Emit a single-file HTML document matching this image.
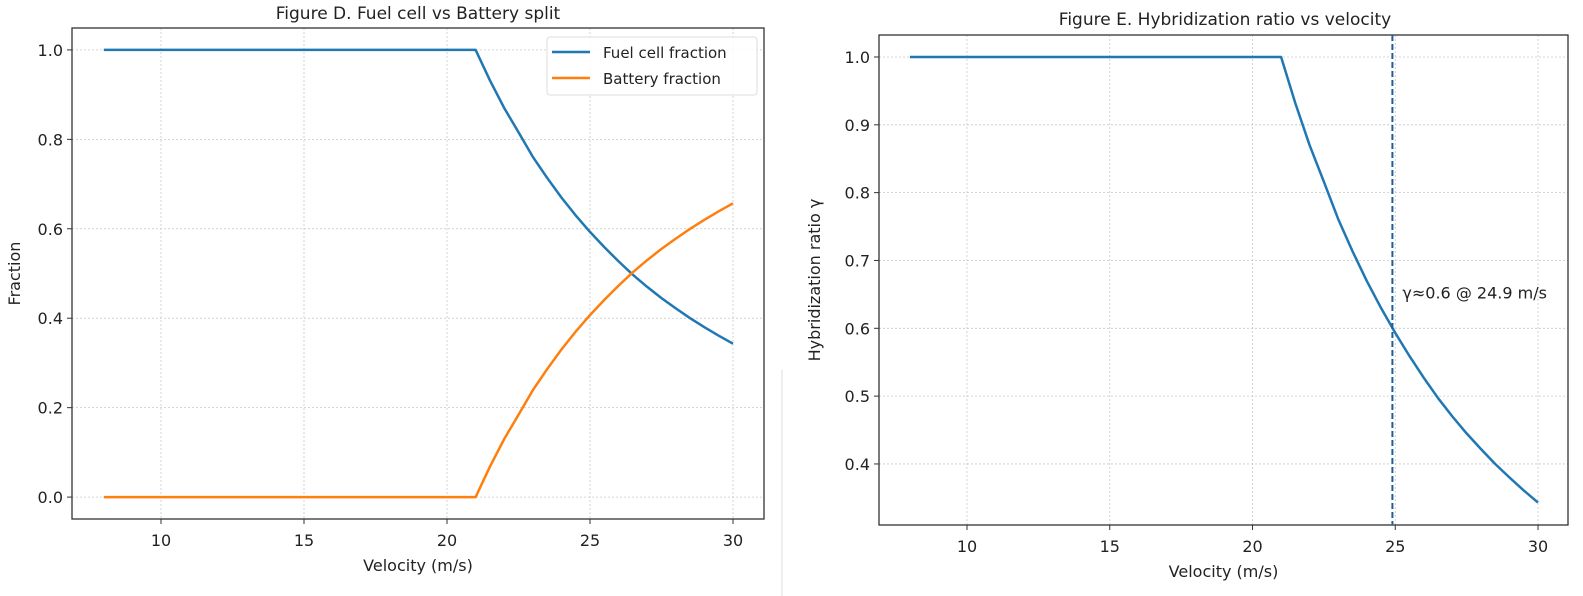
<!DOCTYPE html>
<html><head><meta charset="utf-8"><style>
body{margin:0;background:#fff;}
svg{display:block;font-family:"DejaVu Sans","Liberation Sans",sans-serif;}
</style></head><body>
<svg id="fig" width="1583" height="596" viewBox="0 0 1583 596">
<line x1="782" y1="370" x2="782" y2="596" stroke="#ddd" stroke-width="1"/>
<g id="left"></g>
<g id="right"></g>
</svg>
<script>
const velocity = [8, 21, 21.5, 22, 22.5, 23, 23.5, 24, 24.5, 25, 25.5, 26, 26.5, 27, 27.5, 28, 28.5, 29, 29.5, 30];
const fuelCell = [1, 1, 0.932, 0.870, 0.816, 0.761, 0.714, 0.670, 0.630, 0.593, 0.559, 0.527, 0.497, 0.470, 0.445, 0.422, 0.400, 0.380, 0.361, 0.343];
const battery  = [0, 0, 0.068, 0.130, 0.184, 0.239, 0.286, 0.330, 0.370, 0.407, 0.441, 0.473, 0.503, 0.530, 0.555, 0.578, 0.600, 0.620, 0.639, 0.657];
const gammaVals = [1, 1, 0.932, 0.870, 0.816, 0.761, 0.714, 0.670, 0.630, 0.593, 0.559, 0.527, 0.497, 0.470, 0.445, 0.422, 0.400, 0.380, 0.361, 0.343];
const xTicks = [10, 15, 20, 25, 30];
const yTicksLeft = [0.0, 0.2, 0.4, 0.6, 0.8, 1.0];
const yTicksRight = [0.4, 0.5, 0.6, 0.7, 0.8, 0.9, 1.0];
const markerVelocity = 24.9;
const annotationText = "γ≈0.6 @ 24.9 m/s";

const NS = "http://www.w3.org/2000/svg";
function mk(parent, tag, attrs, text){
  const e = document.createElementNS(NS, tag);
  for (const k in attrs) e.setAttribute(k, attrs[k]);
  if (text !== undefined) e.textContent = text;
  parent.appendChild(e);
  return e;
}

function axes(g, box, xd, yd, yTicks, title, xlabel, ylabel, titleX, titleY){
  const sx = v => box.l + (v - xd[0]) / (xd[1] - xd[0]) * (box.r - box.l);
  const sy = v => box.b - (v - yd[0]) / (yd[1] - yd[0]) * (box.b - box.t);
  xTicks.forEach(t => {
    const gl = mk(g, 'line', {x1:sx(t), x2:sx(t), y1:box.t, y2:box.b, stroke:'#c8c8c8', 'stroke-dasharray':'2,2', 'stroke-width':0.8});
    
    
    const tk = mk(g, 'line', {x1:sx(t), x2:sx(t), y1:box.b, y2:box.b+5, stroke:'#333'});
    
    
    const lb = mk(g, 'text', {x:sx(t), y:box.b+27, 'text-anchor':'middle', 'font-size':16, fill:'#222'}, String(t));
    
    
  });
  yTicks.forEach(t => {
    const gl = mk(g, 'line', {x1:box.l, x2:box.r, y1:sy(t), y2:sy(t), stroke:'#c8c8c8', 'stroke-dasharray':'2,2', 'stroke-width':0.8});
    
    
    const tk = mk(g, 'line', {x1:box.l-5, x2:box.l, y1:sy(t), y2:sy(t), stroke:'#333'});
    
    
    const lb = mk(g, 'text', {x:box.l-9, y:sy(t)+6, 'text-anchor':'end', 'font-size':16, fill:'#222'}, t.toFixed(1));
    
    
  });
  const fr = mk(g, 'rect', {x:box.l, y:box.t, width:box.r-box.l, height:box.b-box.t, fill:'none', stroke:'#333', 'stroke-width':1.3});
  
  
  const ti = mk(g, 'text', {x:titleX, y:titleY, 'text-anchor':'middle', 'font-size':17, fill:'#222'}, title);
  
  
  const xl = mk(g, 'text', {x:(box.l+box.r)/2, y:box.b+52, 'text-anchor':'middle', 'font-size':16, fill:'#222'}, xlabel);
  
  
  const yx = box.yl, yy = (box.t+box.b)/2;
  const yl = mk(g, 'text', {x:yx, y:yy, 'text-anchor':'middle', 'font-size':16, fill:'#222', transform:`rotate(-90 ${yx} ${yy})`}, ylabel);
  
  
  return {sx, sy};
}

function line(g, xs, ys, s, color, name){
  const d = xs.map((x,i)=>(i?'L':'M')+s.sx(x).toFixed(1)+','+s.sy(ys[i]).toFixed(1)).join(' ');
  const p = mk(g, 'path', {d, fill:'none', stroke:color, 'stroke-width':2.5, 'stroke-linejoin':'round'});
  
  
}

// Left chart
const L = document.getElementById('left');
const boxL = {l:72, r:764, t:28, b:519, yl:20};
const sL = axes(L, boxL, [6.888, 31.084], [-0.049, 1.049], yTicksLeft, 'Figure D. Fuel cell vs Battery split', 'Velocity (m/s)', 'Fraction', 418, 19);
line(L, velocity, fuelCell, sL, '#1f77b4', 'fuel-cell-line');
line(L, velocity, battery, sL, '#ff7f0e', 'battery-line');
const leg = mk(L, 'g', {});


mk(leg, 'rect', {x:547, y:37, width:210, height:58, rx:3, fill:'#fff', 'fill-opacity':0.85, stroke:'#ddd'});
const le1 = mk(leg, 'g', {});


mk(le1, 'line', {x1:552, x2:590, y1:52, y2:52, stroke:'#1f77b4', 'stroke-width':2.5});
mk(le1, 'text', {x:603, y:58, 'font-size':15, fill:'#222'}, 'Fuel cell fraction');
const le2 = mk(leg, 'g', {});


mk(le2, 'line', {x1:552, x2:590, y1:78, y2:78, stroke:'#ff7f0e', 'stroke-width':2.5});
mk(le2, 'text', {x:603, y:84, 'font-size':15, fill:'#222'}, 'Battery fraction');

// Right chart
const R = document.getElementById('right');
const boxR = {l:879, r:1568, t:35, b:525, yl:820};
const sR = axes(R, boxR, [6.918, 31.05], [0.310, 1.0324], yTicksRight, 'Figure E. Hybridization ratio vs velocity', 'Velocity (m/s)', 'Hybridization ratio γ', 1225, 25);
line(R, velocity, gammaVals, sR, '#1f77b4', 'gamma-line');
const vl = mk(R, 'line', {x1:sR.sx(markerVelocity), x2:sR.sx(markerVelocity), y1:boxR.t, y2:boxR.b, stroke:'#1f5f99', 'stroke-width':2, 'stroke-dasharray':'6,3'});


const an = mk(R, 'text', {x:sR.sx(markerVelocity)+10, y:sR.sy(0.6)-30, 'font-size':16, fill:'#222'}, annotationText);


</script>
</body></html>
